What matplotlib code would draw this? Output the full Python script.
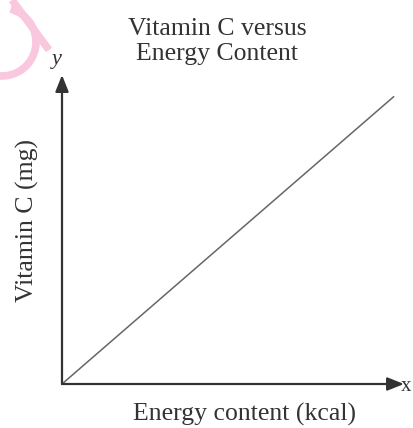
import matplotlib
matplotlib.use("Agg")
import matplotlib.pyplot as plt
from matplotlib.patches import Arc

energy = [0, 9.7]
vitamin_c = [0, 9.3]
title_lines = ["Vitamin C versus", "Energy Content"]
xlabel = "Energy content (kcal)"
ylabel = "Vitamin C (mg)"

plt.rcParams['font.family'] = ['Liberation Serif', 'DejaVu Serif']

fig = plt.figure(figsize=(4.14, 4.28), dpi=100)
W, H = 414, 428
x0, y0, x1, y1 = 62, 384, 404, 75
ax = fig.add_axes([x0 / W, 1 - y0 / H, (x1 - x0) / W, (y0 - y1) / H])
ax.set_xlim(0, 10)
ax.set_ylim(0, 10)
for s in ax.spines.values():
    s.set_visible(False)
ax.set_xticks([])
ax.set_yticks([])

ax.plot(energy, vitamin_c, color="#666666", lw=1.1, solid_capstyle="round")

axcol = "#333333"
ax.annotate("", xy=(10, 0), xytext=(0, 0),
            arrowprops=dict(arrowstyle="-|>,head_length=1.0,head_width=0.4", color=axcol, lw=1.6, shrinkA=0, shrinkB=0))
ax.annotate("", xy=(0, 10), xytext=(0, 0),
            arrowprops=dict(arrowstyle="-|>,head_length=1.0,head_width=0.4", color=axcol, lw=1.6, shrinkA=0, shrinkB=0))

tc = "#333333"
fs = 18.5
fig.text(401 / W, 1 - 391 / H, "x", ha="left", va="baseline", fontsize=15, color=tc)
fig.text(57 / W, 1 - 64 / H, "y", ha="center", va="baseline", fontsize=16, style="italic", color=tc)
fig.text(217 / W, 1 - 35 / H, title_lines[0], ha="center", va="baseline", fontsize=fs, color=tc)
fig.text(217 / W, 1 - 60 / H, title_lines[1], ha="center", va="baseline", fontsize=fs, color=tc)
fig.text(245 / W, 1 - 421 / H, xlabel, ha="center", va="baseline", fontsize=fs, color=tc)
fig.text(27 / W, 1 - 220 / H, ylabel, ha="center", va="center", rotation=90, fontsize=fs, color=tc)

# pink watermark stroke
pink = "#f9c8de"
arc = Arc((2 / W, 1 - 42 / H), 68 / W, 68 / H, angle=0, theta1=-95, theta2=75,
          transform=fig.transFigure, color=pink, lw=5.5)
fig.add_artist(arc)
fig.add_artist(plt.Line2D([12 / W, 49 / W], [1 - 0 / H, 1 - 50 / H], transform=fig.transFigure,
                          color=pink, lw=5.5, solid_capstyle="butt"))

fig.savefig("out.png", dpi=100)
